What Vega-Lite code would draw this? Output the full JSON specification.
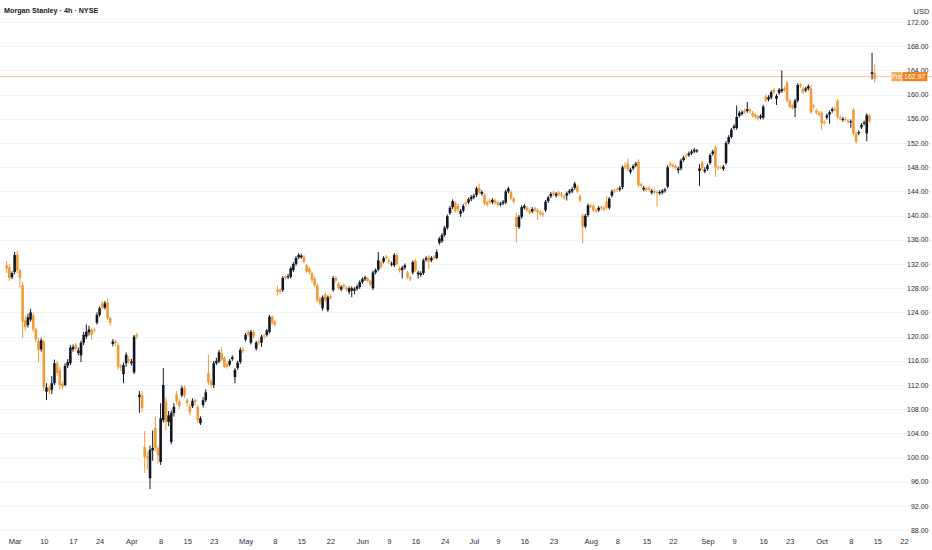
{
  "$schema": "https://vega.github.io/schema/vega-lite/v6.json",
  "description": "Morgan Stanley 4h candles, NYSE",
  "width": 932,
  "height": 532,
  "autosize": {"type": "none"},
  "padding": {"left": 0, "top": 0, "right": 0, "bottom": 18},
  "background": "white",
  "title": {
    "text": "Morgan Stanley · 4h · NYSE",
    "anchor": "start",
    "frame": "group",
    "orient": "top",
    "offset": -14,
    "dx": 4,
    "fontSize": 7.2,
    "fontWeight": 600,
    "color": "#131722",
    "font": "Liberation Sans"
  },
  "datasets": {
    "bars": [
      {"i":-2,"o":131.8,"h":132.5,"l":130.5,"c":131.3},
      {"i":-1,"o":131.5,"h":132,"l":129.2,"c":129.7},
      {"i":0,"o":129.8,"h":130.8,"l":129.5,"c":130.5},
      {"i":1,"o":130.7,"h":134,"l":130.3,"c":133.5},
      {"i":2,"o":133.6,"h":134.2,"l":130.5,"c":131},
      {"i":3,"o":131,"h":131.2,"l":128,"c":129.7},
      {"i":4,"o":128.5,"h":129,"l":119.8,"c":122.5},
      {"i":5,"o":122.7,"h":123.5,"l":121,"c":121.6},
      {"i":6,"o":121.9,"h":123.8,"l":121.5,"c":123.2},
      {"i":7,"o":122.8,"h":124.6,"l":122.5,"c":124},
      {"i":8,"o":123.5,"h":124,"l":120.8,"c":121.2},
      {"i":9,"o":121.2,"h":121.5,"l":119,"c":119.5},
      {"i":10,"o":119.3,"h":119.8,"l":115.8,"c":117.8},
      {"i":11,"o":117.9,"h":119.8,"l":117.5,"c":119.4},
      {"i":12,"o":119.2,"h":119.5,"l":111,"c":111.6},
      {"i":13,"o":110.9,"h":112.3,"l":109.5,"c":111.6},
      {"i":14,"o":111.6,"h":112,"l":110.5,"c":111},
      {"i":15,"o":111.2,"h":113.5,"l":110.5,"c":112.3},
      {"i":16,"o":112.3,"h":116.2,"l":112,"c":115.6},
      {"i":17,"o":115.6,"h":116,"l":113.5,"c":114},
      {"i":18,"o":114.5,"h":115,"l":111.3,"c":112},
      {"i":19,"o":112.2,"h":112.6,"l":111.3,"c":111.7},
      {"i":20,"o":112,"h":115.6,"l":111.8,"c":115.2},
      {"i":21,"o":115.2,"h":116.3,"l":114.8,"c":115.8},
      {"i":22,"o":115.6,"h":118.6,"l":115.3,"c":118.2},
      {"i":23,"o":117.9,"h":118.7,"l":117.5,"c":118.3},
      {"i":24,"o":118.6,"h":119,"l":117.6,"c":118},
      {"i":25,"o":117.3,"h":118.2,"l":116.9,"c":117.7},
      {"i":26,"o":116.9,"h":119.3,"l":115.8,"c":119},
      {"i":27,"o":119,"h":120.8,"l":118.6,"c":120.3},
      {"i":28,"o":120,"h":122,"l":119.6,"c":120.8},
      {"i":29,"o":120.7,"h":121.8,"l":120.2,"c":121.2},
      {"i":30,"o":121.1,"h":121.5,"l":119.5,"c":120.3},
      {"i":31,"o":121.2,"h":121.5,"l":120.6,"c":121},
      {"i":32,"o":122.3,"h":124,"l":122,"c":123.6},
      {"i":33,"o":123.6,"h":125,"l":123.3,"c":124.7},
      {"i":34,"o":125.5,"h":125.9,"l":124.5,"c":124.8},
      {"i":35,"o":124.8,"h":125.9,"l":124.5,"c":125.5},
      {"i":36,"o":125.7,"h":126.3,"l":122.8,"c":123.1},
      {"i":37,"o":123.1,"h":123.3,"l":121.8,"c":122.3},
      {"i":38,"o":118.8,"h":119.6,"l":118.4,"c":119.2},
      {"i":39,"o":119.2,"h":119.5,"l":118.5,"c":119},
      {"i":40,"o":118.6,"h":119,"l":114.5,"c":115},
      {"i":41,"o":115.1,"h":115.5,"l":114.3,"c":114.9},
      {"i":42,"o":113.8,"h":115.7,"l":112.3,"c":115.3},
      {"i":43,"o":115.6,"h":117.4,"l":115,"c":117},
      {"i":44,"o":116.3,"h":116.7,"l":115.5,"c":116},
      {"i":45,"o":115.6,"h":116.3,"l":115.2,"c":115.9},
      {"i":46,"o":114.1,"h":120.3,"l":113.8,"c":120},
      {"i":47,"o":120.3,"h":120.6,"l":119.6,"c":120},
      {"i":48,"o":110,"h":111,"l":107.4,"c":110.4},
      {"i":49,"o":110.3,"h":111,"l":107.5,"c":108.2},
      {"i":50,"o":101.8,"h":104.4,"l":97.5,"c":100.1},
      {"i":51,"o":100.2,"h":101,"l":98,"c":99.9},
      {"i":52,"o":96.6,"h":102,"l":94.8,"c":101.3},
      {"i":53,"o":101.2,"h":104.5,"l":99.5,"c":101.6},
      {"i":54,"o":104.9,"h":106.8,"l":101,"c":101.6},
      {"i":55,"o":101.6,"h":102,"l":99,"c":100.4},
      {"i":56,"o":99.3,"h":109,"l":98.8,"c":106.5},
      {"i":57,"o":106.2,"h":114.8,"l":105.8,"c":112},
      {"i":58,"o":109.2,"h":110,"l":104.5,"c":105.9},
      {"i":59,"o":105.9,"h":107.7,"l":105.2,"c":107},
      {"i":60,"o":102.6,"h":107.8,"l":102.2,"c":107.4},
      {"i":61,"o":107.4,"h":109,"l":106.8,"c":108.4},
      {"i":62,"o":110.5,"h":111,"l":108.8,"c":109.3},
      {"i":63,"o":109.3,"h":109.8,"l":108,"c":108.5},
      {"i":64,"o":110.3,"h":111.9,"l":110,"c":111.5},
      {"i":65,"o":111.6,"h":112,"l":109.9,"c":110.3},
      {"i":66,"o":109.5,"h":109.8,"l":108.5,"c":109},
      {"i":67,"o":108.5,"h":108.8,"l":107,"c":107.5},
      {"i":68,"o":108.5,"h":109.8,"l":108.2,"c":109.4},
      {"i":69,"o":109.5,"h":109.8,"l":108.7,"c":109.2},
      {"i":70,"o":108.4,"h":108.7,"l":105.8,"c":106.2},
      {"i":71,"o":105.7,"h":106.8,"l":105.4,"c":106.5},
      {"i":72,"o":108.7,"h":110,"l":108.3,"c":109.5},
      {"i":73,"o":109.5,"h":111.3,"l":109.2,"c":110.8},
      {"i":74,"o":114,"h":117,"l":112,"c":112.5},
      {"i":75,"o":112.6,"h":113,"l":111.5,"c":112},
      {"i":76,"o":112,"h":116,"l":111.5,"c":115.6},
      {"i":77,"o":115.6,"h":116.5,"l":115.3,"c":116},
      {"i":78,"o":115.9,"h":117.8,"l":115.6,"c":117.4},
      {"i":79,"o":117.3,"h":118.2,"l":116,"c":116.2},
      {"i":80,"o":116.5,"h":116.8,"l":114.8,"c":115},
      {"i":81,"o":115.5,"h":115.8,"l":114.7,"c":115},
      {"i":82,"o":115.4,"h":116.3,"l":115.1,"c":116},
      {"i":83,"o":116.3,"h":116.9,"l":116,"c":116.6},
      {"i":84,"o":113.3,"h":114.8,"l":112.3,"c":114.5},
      {"i":85,"o":114.8,"h":116,"l":114.5,"c":115.7},
      {"i":86,"o":115.8,"h":118.2,"l":115.5,"c":117.8},
      {"i":87,"o":117.9,"h":118.3,"l":117.3,"c":117.6},
      {"i":88,"o":119.5,"h":120.6,"l":119.2,"c":120.3},
      {"i":89,"o":120.8,"h":121.1,"l":120,"c":120.3},
      {"i":90,"o":119,"h":121.1,"l":118.7,"c":120.8},
      {"i":91,"o":120.8,"h":121.1,"l":119.7,"c":120},
      {"i":92,"o":118,"h":119.3,"l":117.7,"c":119},
      {"i":93,"o":119.2,"h":119.5,"l":118.6,"c":119},
      {"i":94,"o":119,"h":120.3,"l":118.3,"c":120},
      {"i":95,"o":120.2,"h":120.5,"l":119.6,"c":120},
      {"i":96,"o":120.3,"h":121.3,"l":120,"c":121},
      {"i":97,"o":120.8,"h":123.6,"l":120.5,"c":123.3},
      {"i":98,"o":123.3,"h":123.5,"l":121.9,"c":122.3},
      {"i":99,"o":122.5,"h":122.8,"l":121.7,"c":122},
      {"i":100,"o":127.8,"h":128.4,"l":126.8,"c":127.4},
      {"i":101,"o":127.7,"h":128,"l":127,"c":127.4},
      {"i":102,"o":127.7,"h":130,"l":127.4,"c":129.7},
      {"i":103,"o":129.9,"h":130.2,"l":129.4,"c":129.7},
      {"i":104,"o":129.8,"h":130.4,"l":129.5,"c":130},
      {"i":105,"o":129.9,"h":131.6,"l":129.6,"c":131.3},
      {"i":106,"o":131,"h":132.3,"l":130.7,"c":132},
      {"i":107,"o":132,"h":133.3,"l":131.7,"c":133},
      {"i":108,"o":133.1,"h":133.8,"l":132.8,"c":133.5},
      {"i":109,"o":133.1,"h":133.7,"l":132.9,"c":133.4},
      {"i":110,"o":133.2,"h":133.5,"l":132.1,"c":132.4},
      {"i":111,"o":131.8,"h":132,"l":130.5,"c":130.8},
      {"i":112,"o":131.3,"h":131.6,"l":130.3,"c":130.6},
      {"i":113,"o":130.5,"h":130.8,"l":129,"c":129.4},
      {"i":114,"o":129.6,"h":130,"l":128.2,"c":128.5},
      {"i":115,"o":128.5,"h":128.8,"l":125.7,"c":126},
      {"i":116,"o":126.3,"h":126.6,"l":125.2,"c":125.5},
      {"i":117,"o":124.7,"h":126.8,"l":124.3,"c":126.5},
      {"i":118,"o":127,"h":127.3,"l":125.7,"c":126},
      {"i":119,"o":124.4,"h":126.8,"l":124.1,"c":126.5},
      {"i":120,"o":126.7,"h":127,"l":126.1,"c":126.4},
      {"i":121,"o":127.7,"h":130,"l":127.4,"c":129.7},
      {"i":122,"o":129.7,"h":130,"l":129,"c":129.3},
      {"i":123,"o":128.8,"h":129,"l":127.7,"c":128},
      {"i":124,"o":127.8,"h":128.5,"l":127.5,"c":128.2},
      {"i":125,"o":128.5,"h":128.8,"l":127.9,"c":128.2},
      {"i":126,"o":128.1,"h":128.4,"l":127.5,"c":127.8},
      {"i":127,"o":127.4,"h":128.3,"l":127,"c":128},
      {"i":128,"o":127.6,"h":128.3,"l":126.5,"c":128},
      {"i":129,"o":127.6,"h":128.2,"l":127,"c":127.9},
      {"i":130,"o":127.9,"h":128.6,"l":127.6,"c":128.3},
      {"i":131,"o":128.2,"h":129.3,"l":127.9,"c":129},
      {"i":132,"o":129,"h":129.8,"l":128.7,"c":129.5},
      {"i":133,"o":129.5,"h":130.1,"l":129.2,"c":129.8},
      {"i":134,"o":129.6,"h":129.9,"l":128.9,"c":129.2},
      {"i":135,"o":129.2,"h":129.4,"l":128.3,"c":128.6},
      {"i":136,"o":128,"h":130.9,"l":127.7,"c":130.6},
      {"i":137,"o":130.6,"h":131.3,"l":130.3,"c":131},
      {"i":138,"o":131.1,"h":134,"l":130.8,"c":132.6},
      {"i":139,"o":132.3,"h":132.6,"l":131.2,"c":131.5},
      {"i":140,"o":132.4,"h":133.3,"l":132.1,"c":133},
      {"i":141,"o":133.2,"h":133.5,"l":132.7,"c":133},
      {"i":142,"o":132.6,"h":132.9,"l":132,"c":132.3},
      {"i":143,"o":131.9,"h":132.4,"l":131.6,"c":132.1},
      {"i":144,"o":131.8,"h":133.8,"l":131.5,"c":133.5},
      {"i":145,"o":133.5,"h":133.8,"l":131.7,"c":132},
      {"i":146,"o":131.3,"h":131.6,"l":130.6,"c":130.9},
      {"i":147,"o":131,"h":131.7,"l":129.6,"c":131.4},
      {"i":148,"o":131.4,"h":132.1,"l":131.1,"c":131.8},
      {"i":149,"o":130.6,"h":130.9,"l":129.5,"c":129.8},
      {"i":150,"o":129.8,"h":130.1,"l":129.2,"c":129.5},
      {"i":151,"o":130.6,"h":132.6,"l":130.3,"c":132.3},
      {"i":152,"o":132.5,"h":132.8,"l":130.7,"c":131},
      {"i":153,"o":130.3,"h":130.9,"l":129.6,"c":130.6},
      {"i":154,"o":130.2,"h":130.8,"l":129.9,"c":130.5},
      {"i":155,"o":130.5,"h":132.9,"l":130.2,"c":132.6},
      {"i":156,"o":132.7,"h":133.3,"l":132.4,"c":133},
      {"i":157,"o":133.2,"h":133.5,"l":131.2,"c":132.4},
      {"i":158,"o":132.6,"h":133.3,"l":132.3,"c":133},
      {"i":159,"o":133.2,"h":133.5,"l":132.7,"c":133},
      {"i":160,"o":133,"h":134.4,"l":132.8,"c":134},
      {"i":161,"o":135.5,"h":136.5,"l":135.2,"c":136.2},
      {"i":162,"o":135.8,"h":137.1,"l":135.5,"c":136.8},
      {"i":163,"o":136.8,"h":138.3,"l":136.5,"c":138},
      {"i":164,"o":138,"h":140.2,"l":137.7,"c":139.9},
      {"i":165,"o":140.4,"h":141.6,"l":140.1,"c":141.3},
      {"i":166,"o":141.4,"h":142.7,"l":141.1,"c":142.4},
      {"i":167,"o":142.1,"h":142.4,"l":140.5,"c":140.8},
      {"i":168,"o":141.6,"h":141.9,"l":140.6,"c":141},
      {"i":169,"o":140.3,"h":141.1,"l":139.8,"c":140.8},
      {"i":170,"o":140.8,"h":141.9,"l":140.5,"c":141.6},
      {"i":171,"o":142.2,"h":142.5,"l":141.6,"c":141.9},
      {"i":172,"o":142.2,"h":143,"l":141.9,"c":142.7},
      {"i":173,"o":142.7,"h":143.4,"l":142.4,"c":143.1},
      {"i":174,"o":143,"h":143.6,"l":142.7,"c":143.3},
      {"i":175,"o":143.4,"h":144.8,"l":143.1,"c":144.5},
      {"i":176,"o":144.6,"h":145.3,"l":143.5,"c":143.8},
      {"i":177,"o":143.6,"h":144.2,"l":143.3,"c":143.9},
      {"i":178,"o":143.4,"h":143.7,"l":141.7,"c":142},
      {"i":179,"o":142.2,"h":142.5,"l":141.5,"c":141.8},
      {"i":180,"o":142.5,"h":142.8,"l":141.9,"c":142.2},
      {"i":181,"o":142.2,"h":142.9,"l":141.9,"c":142.6},
      {"i":182,"o":142.5,"h":142.8,"l":141.8,"c":142.1},
      {"i":183,"o":142.2,"h":142.5,"l":141.5,"c":141.8},
      {"i":184,"o":141.8,"h":142.3,"l":141.5,"c":142},
      {"i":185,"o":142,"h":142.6,"l":141.7,"c":142.3},
      {"i":186,"o":142.2,"h":144.3,"l":141.9,"c":144},
      {"i":187,"o":144,"h":144.8,"l":143.7,"c":144.5},
      {"i":188,"o":143.9,"h":144.2,"l":142.5,"c":142.8},
      {"i":189,"o":142.8,"h":143.1,"l":142,"c":142.3},
      {"i":190,"o":139.8,"h":140.5,"l":135.5,"c":138.1},
      {"i":191,"o":138.1,"h":140.1,"l":137.8,"c":139.8},
      {"i":192,"o":139.8,"h":141.7,"l":139.5,"c":141.4},
      {"i":193,"o":141.3,"h":141.9,"l":141,"c":141.6},
      {"i":194,"o":141.3,"h":141.6,"l":140.6,"c":140.9},
      {"i":195,"o":140.9,"h":141.2,"l":140.2,"c":140.5},
      {"i":196,"o":140.7,"h":141.4,"l":140.4,"c":141.1},
      {"i":197,"o":141.2,"h":141.5,"l":140.6,"c":140.9},
      {"i":198,"o":140.9,"h":141.2,"l":139.3,"c":140.6},
      {"i":199,"o":140.6,"h":140.9,"l":140,"c":140.3},
      {"i":200,"o":140.4,"h":140.7,"l":139.8,"c":140.1},
      {"i":201,"o":140.9,"h":142.6,"l":140.6,"c":142.3},
      {"i":202,"o":142.4,"h":143.3,"l":142.1,"c":143},
      {"i":203,"o":143.2,"h":143.9,"l":142.9,"c":143.6},
      {"i":204,"o":143.8,"h":144.1,"l":143.2,"c":143.5},
      {"i":205,"o":143.3,"h":143.9,"l":143,"c":143.6},
      {"i":206,"o":143.8,"h":144.1,"l":143.2,"c":143.5},
      {"i":207,"o":143.6,"h":143.9,"l":143,"c":143.3},
      {"i":208,"o":143.2,"h":143.5,"l":142.6,"c":142.9},
      {"i":209,"o":143.3,"h":144,"l":142.5,"c":143.7},
      {"i":210,"o":143.8,"h":144.4,"l":143.5,"c":144.1},
      {"i":211,"o":144,"h":144.7,"l":143.7,"c":144.4},
      {"i":212,"o":144.6,"h":145.6,"l":144.3,"c":145.3},
      {"i":213,"o":144.8,"h":145.1,"l":143.7,"c":144},
      {"i":214,"o":143.2,"h":143.5,"l":142.2,"c":142.5},
      {"i":215,"o":140,"h":140.3,"l":135.4,"c":138.2},
      {"i":216,"o":138.2,"h":140.3,"l":137.9,"c":140},
      {"i":217,"o":140.1,"h":142,"l":139.8,"c":141.7},
      {"i":218,"o":141.7,"h":142,"l":141.2,"c":141.5},
      {"i":219,"o":141.6,"h":141.9,"l":140.6,"c":140.9},
      {"i":220,"o":140.9,"h":141.2,"l":140.4,"c":140.7},
      {"i":221,"o":140.9,"h":141.6,"l":140.6,"c":141.3},
      {"i":222,"o":141.4,"h":141.7,"l":140.9,"c":141.2},
      {"i":223,"o":141.3,"h":141.6,"l":140.7,"c":141},
      {"i":224,"o":142.3,"h":143.3,"l":141,"c":141.3},
      {"i":225,"o":141.3,"h":143.1,"l":141,"c":142.8},
      {"i":226,"o":143.3,"h":144.3,"l":143,"c":144},
      {"i":227,"o":144.2,"h":144.5,"l":143.7,"c":144},
      {"i":228,"o":144.4,"h":144.7,"l":143.9,"c":144.2},
      {"i":229,"o":144.3,"h":144.9,"l":144,"c":144.6},
      {"i":230,"o":144.7,"h":148.3,"l":144.4,"c":148},
      {"i":231,"o":148.3,"h":148.8,"l":147.7,"c":148},
      {"i":232,"o":148.6,"h":149.5,"l":147.3,"c":147.6},
      {"i":233,"o":147.2,"h":147.9,"l":146.9,"c":147.6},
      {"i":234,"o":147.8,"h":148.5,"l":147.5,"c":148.2},
      {"i":235,"o":148.3,"h":148.9,"l":148,"c":148.6},
      {"i":236,"o":148.9,"h":149.3,"l":144.7,"c":145},
      {"i":237,"o":145.2,"h":145.5,"l":144.6,"c":144.9},
      {"i":238,"o":144.3,"h":144.9,"l":144,"c":144.6},
      {"i":239,"o":144.5,"h":144.8,"l":143.9,"c":144.2},
      {"i":240,"o":144.6,"h":144.9,"l":144,"c":144.3},
      {"i":241,"o":143.8,"h":144.4,"l":143.5,"c":144.1},
      {"i":242,"o":144.1,"h":144.4,"l":143.5,"c":143.8},
      {"i":243,"o":143.9,"h":144.2,"l":141.5,"c":143.7},
      {"i":244,"o":143.7,"h":144.2,"l":143.4,"c":143.9},
      {"i":245,"o":143.8,"h":144.4,"l":143.5,"c":144.1},
      {"i":246,"o":144.1,"h":144.6,"l":143.8,"c":144.3},
      {"i":247,"o":144.8,"h":148.3,"l":144.5,"c":148},
      {"i":248,"o":148.6,"h":148.9,"l":148,"c":148.3},
      {"i":249,"o":148.4,"h":148.7,"l":147.8,"c":148.1},
      {"i":250,"o":148.2,"h":148.5,"l":147.6,"c":147.9},
      {"i":251,"o":147.5,"h":148.1,"l":147,"c":147.8},
      {"i":252,"o":147.8,"h":149.4,"l":147.5,"c":149.1},
      {"i":253,"o":149.2,"h":149.9,"l":148.9,"c":149.6},
      {"i":254,"o":150,"h":150.3,"l":149.5,"c":149.8},
      {"i":255,"o":150,"h":150.6,"l":149.7,"c":150.3},
      {"i":256,"o":150.3,"h":150.9,"l":150,"c":150.6},
      {"i":257,"o":150.6,"h":151.2,"l":150.3,"c":150.9},
      {"i":258,"o":150.6,"h":151,"l":150.4,"c":150.8},
      {"i":259,"o":147.4,"h":148.5,"l":144.9,"c":147.8},
      {"i":260,"o":148.8,"h":149.1,"l":147.5,"c":147.8},
      {"i":261,"o":147.3,"h":148,"l":147,"c":147.6},
      {"i":262,"o":147.7,"h":148.6,"l":147.4,"c":148.3},
      {"i":263,"o":148.7,"h":150.3,"l":148.4,"c":150},
      {"i":264,"o":150.2,"h":150.9,"l":149.9,"c":150.6},
      {"i":265,"o":151.3,"h":151.6,"l":146.4,"c":148},
      {"i":266,"o":148,"h":148.3,"l":147.5,"c":147.8},
      {"i":267,"o":148,"h":148.3,"l":147.6,"c":147.9},
      {"i":268,"o":147.7,"h":148.4,"l":147.4,"c":148.1},
      {"i":269,"o":148.7,"h":152.3,"l":148.4,"c":152},
      {"i":270,"o":152.1,"h":153.3,"l":151.8,"c":153},
      {"i":271,"o":153,"h":154.5,"l":152.7,"c":154.2},
      {"i":272,"o":154.5,"h":155.1,"l":154.2,"c":154.8},
      {"i":273,"o":154.5,"h":158.2,"l":154.2,"c":156.3},
      {"i":274,"o":156.5,"h":157.3,"l":156.2,"c":157},
      {"i":275,"o":156.8,"h":157.4,"l":156.5,"c":157.1},
      {"i":276,"o":157.4,"h":157.7,"l":156.8,"c":157.1},
      {"i":277,"o":157.3,"h":158.8,"l":157,"c":157.6},
      {"i":278,"o":157.5,"h":157.8,"l":156.9,"c":157.2},
      {"i":279,"o":157,"h":157.3,"l":156.2,"c":156.5},
      {"i":280,"o":156.7,"h":157,"l":156,"c":156.3},
      {"i":281,"o":156.4,"h":156.7,"l":155.7,"c":156},
      {"i":282,"o":156.2,"h":156.8,"l":155.9,"c":156.5},
      {"i":283,"o":156.2,"h":158.3,"l":155.9,"c":158},
      {"i":284,"o":159.7,"h":160.1,"l":158.7,"c":159},
      {"i":285,"o":159.2,"h":159.9,"l":158.9,"c":159.6},
      {"i":286,"o":159.5,"h":160.7,"l":159.2,"c":160.4},
      {"i":287,"o":160.8,"h":161.1,"l":160.1,"c":160.4},
      {"i":288,"o":159.3,"h":160.1,"l":158.3,"c":159.8},
      {"i":289,"o":160.3,"h":161.1,"l":160,"c":160.8},
      {"i":290,"o":160.6,"h":164,"l":160.3,"c":160.9},
      {"i":291,"o":161.1,"h":161.4,"l":160.5,"c":160.8},
      {"i":292,"o":162,"h":162.3,"l":158.7,"c":159},
      {"i":293,"o":159,"h":159.3,"l":157.7,"c":158},
      {"i":294,"o":158.2,"h":158.5,"l":157.5,"c":157.8},
      {"i":295,"o":157.8,"h":159.3,"l":156.3,"c":159},
      {"i":296,"o":159,"h":161.9,"l":158.7,"c":161.6},
      {"i":297,"o":161.7,"h":162,"l":161.1,"c":161.4},
      {"i":298,"o":161,"h":161.3,"l":160.1,"c":160.4},
      {"i":299,"o":160.7,"h":161.3,"l":160.4,"c":161},
      {"i":300,"o":161,"h":161.7,"l":160.7,"c":161.4},
      {"i":301,"o":161,"h":161.7,"l":156.8,"c":157.1},
      {"i":302,"o":158.2,"h":158.5,"l":157.7,"c":158},
      {"i":303,"o":157.4,"h":157.7,"l":156.7,"c":157},
      {"i":304,"o":157,"h":157.3,"l":156.4,"c":156.7},
      {"i":305,"o":157,"h":157.3,"l":154.2,"c":155.3},
      {"i":306,"o":155.5,"h":155.8,"l":155,"c":155.3},
      {"i":307,"o":156.2,"h":156.9,"l":155.9,"c":156.6},
      {"i":308,"o":156.7,"h":157.4,"l":155.2,"c":157.1},
      {"i":309,"o":157.3,"h":157.9,"l":157,"c":157.6},
      {"i":310,"o":157.7,"h":158,"l":157.2,"c":157.5},
      {"i":311,"o":159,"h":159.3,"l":156,"c":156.3},
      {"i":312,"o":156.2,"h":156.5,"l":155.7,"c":156},
      {"i":313,"o":155.8,"h":156.3,"l":155.5,"c":156},
      {"i":314,"o":156,"h":156.3,"l":155.6,"c":155.9},
      {"i":315,"o":155.7,"h":156,"l":155.2,"c":155.5},
      {"i":316,"o":155.4,"h":155.9,"l":154.5,"c":155.6},
      {"i":317,"o":157.5,"h":157.8,"l":153.3,"c":153.6},
      {"i":318,"o":153.6,"h":153.9,"l":151.9,"c":152.2},
      {"i":319,"o":153.6,"h":154.1,"l":153.3,"c":153.8},
      {"i":320,"o":154.6,"h":155.3,"l":154.3,"c":155},
      {"i":321,"o":155.2,"h":155.7,"l":154.9,"c":155.4},
      {"i":322,"o":153.6,"h":156.9,"l":152.3,"c":156.6},
      {"i":323,"o":156.5,"h":156.8,"l":155.3,"c":155.6},
      {"i":324,"o":163.4,"h":166.9,"l":162.5,"c":163.7},
      {"i":325,"o":163.5,"h":165,"l":161.9,"c":162.6}
    ],
    "last": [{"price": 162.97, "label": "162.97", "tag": "Pre"}]
  },
  "layer": [
    {
      "data": {"name": "last"},
      "mark": {"type": "rule", "color": "#f9c590", "strokeWidth": 1},
      "encoding": {
        "y": {
          "field": "price",
          "type": "quantitative",
          "scale": {"domain": [87.71, 175.64], "nice": false, "zero": false},
          "axis": {
            "orient": "right",
            "values": [88, 92, 96, 100, 104, 108, 112, 116, 120, 124, 128, 132, 136, 140, 144, 148, 152, 156, 160, 164, 168, 172],
            "tickCount": 200,
            "format": ".2f",
            "grid": true,
            "gridColor": "#f3f4f6",
            "domain": false,
            "ticks": false,
            "labelPadding": -4,
            "labelAlign": "right",
            "labelFontSize": 7,
            "labelColor": "#2a2e39",
            "labelOverlap": false,
            "labelBound": false,
            "title": "USD",
            "titleAngle": 0,
            "titleX": -19,
            "titleY": 11,
            "titleAlign": "left",
            "titleBaseline": "middle",
            "titleFontWeight": "normal",
            "titleFontSize": 7.5,
            "titleColor": "#2a2e39"
          }
        }
      }
    },
    {
      "data": {"name": "bars"},
      "mark": {"type": "rule", "strokeWidth": 1},
      "encoding": {
        "x": {
          "field": "i",
          "type": "quantitative",
          "scale": {"domain": [-2.63, 344.7], "nice": false, "zero": false},
          "axis": {
            "values": [1, 12, 23, 33, 45, 56, 66, 76, 88, 99, 109, 120, 132, 142, 152, 163, 174, 183, 193, 204, 218, 228, 239, 249, 262, 272, 283, 293, 305, 316, 326, 336],
            "tickCount": 200,
            "labelExpr": "['Mar','10','17','24','Apr','8','15','23','May','8','15','22','Jun','9','16','24','Jul','9','16','23','Aug','8','15','22','Sep','9','16','23','Oct','8','15','22'][indexof([1,12,23,33,45,56,66,76,88,99,109,120,132,142,152,163,174,183,193,204,218,228,239,249,262,272,283,293,305,316,326,336], datum.value)]",
            "grid": false,
            "domain": false,
            "ticks": false,
            "labelPadding": 5,
            "labelFontSize": 7.5,
            "labelColor": "#2a2e39",
            "labelFlush": false,
            "labelOverlap": false,
            "labelBound": false,
            "title": null
          }
        },
        "y": {"field": "l", "type": "quantitative"},
        "y2": {"field": "h"},
        "color": {
          "condition": {"test": "datum.c < datum.o", "value": "#f29a38"},
          "value": "#131722"
        }
      }
    },
    {
      "data": {"name": "bars"},
      "mark": {"type": "bar", "size": 2.6},
      "encoding": {
        "x": {"field": "i", "type": "quantitative"},
        "y": {"field": "o", "type": "quantitative"},
        "y2": {"field": "c"},
        "color": {
          "condition": {"test": "datum.c < datum.o", "value": "#f29a38"},
          "value": "#131722"
        }
      }
    },
    {
      "data": {"name": "last"},
      "mark": {"type": "tick", "orient": "horizontal", "size": 10, "thickness": 9, "color": "#f7a54e", "opacity": 1},
      "encoding": {
        "x": {"datum": 333.2, "type": "quantitative"},
        "y": {"field": "price", "type": "quantitative"}
      }
    },
    {
      "data": {"name": "last"},
      "mark": {"type": "tick", "orient": "horizontal", "size": 25, "thickness": 9, "color": "#f57f17", "opacity": 1},
      "encoding": {
        "x": {"datum": 340.1, "type": "quantitative"},
        "y": {"field": "price", "type": "quantitative"}
      }
    },
    {
      "data": {"name": "last"},
      "mark": {"type": "text", "color": "white", "fontSize": 6.5, "align": "center", "baseline": "middle"},
      "encoding": {
        "x": {"datum": 333.2, "type": "quantitative"},
        "y": {"field": "price", "type": "quantitative"},
        "text": {"field": "tag"}
      }
    },
    {
      "data": {"name": "last"},
      "mark": {"type": "text", "color": "white", "fontSize": 7, "align": "center", "baseline": "middle"},
      "encoding": {
        "x": {"datum": 340.1, "type": "quantitative"},
        "y": {"field": "price", "type": "quantitative"},
        "text": {"field": "label"}
      }
    }
  ],
  "config": {
    "font": "Liberation Sans",
    "view": {"stroke": null},
    "axis": {"labelFont": "Liberation Sans", "titleFont": "Liberation Sans", "labelOverlap": false},
    "text": {"font": "Liberation Sans"}
  }
}
